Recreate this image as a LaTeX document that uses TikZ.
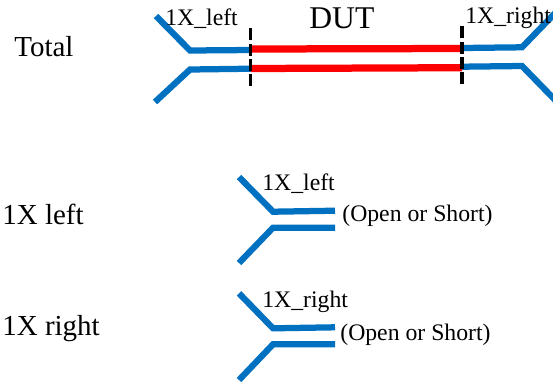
\documentclass[tikz,border=0pt]{standalone}
\usepackage{fontspec}
\setmainfont{Liberation Serif}
\definecolor{forkblue}{RGB}{0,112,192}
\tikzset{
	fork/.style={draw=forkblue, line width=0.125cm, line join=miter},
	dut/.style={draw=red, line width=0.145cm},
	plane/.style={draw=black, line width=0.07cm, dash pattern=on 0.24cm off 0.07cm},
	biglabel/.style={anchor=base west, inner sep=0pt, font=\fontsize{16.5}{18}\selectfont},
	hugelabel/.style={anchor=base west, inner sep=0pt, font=\fontsize{18}{20}\selectfont},
	smalllabel/.style={anchor=base west, inner sep=0pt, font=\fontsize{13.5}{15}\selectfont}
}
\begin{document}
\begin{tikzpicture}[x=0.02cm, y=-0.02cm]
	\useasboundingbox (0,0) rectangle (553,383);
	\begin{scope}
	\clip (0,0) rectangle (553,383);
	\draw[fork] (156,16) -- (190,50.5) -- (251,50);%total left upper
	\draw[fork] (155,102) -- (190,69.5) -- (251,68.7);%total left lower
	\draw[fork] (462,48) -- (522,47.3) -- (560,8);%total right upper
	\draw[fork] (462,66.7) -- (522,66) -- (560,105);%total right lower
	\end{scope}
	\draw[dut] (251,49) -- (462,48.5);
	\draw[dut] (251,68.5) -- (462,67.7);
	\draw[plane] (250.5,28) -- (250.5,87);
	\draw[plane] (462,26) -- (462,85);

	\draw[fork] (239,177) -- (273,211.7) -- (335,210.7);%1X left upper
	\draw[fork] (239,263) -- (273,227.7) -- (335,227.7);%1X left lower
	\draw[fork] (239,293.3) -- (273,328.3) -- (335,327.3);%1X right upper
	\draw[fork] (239,380) -- (273,344.3) -- (335,344.3);%1X right lower

	\node[biglabel] (total) at (14,56) {Total};
	\node[hugelabel] (dutlabel) at (309,28) {DUT};
	\node[smalllabel] (totalleft) at (165,25) {1X\_left};
	\node[smalllabel] (totalright) at (465,23) {1X\_right};
	\node[biglabel] (leftrow) at (2,224) {1X left};
	\node[smalllabel] (leftfork) at (262,190) {1X\_left};
	\node[smalllabel] (leftopen) at (342,221) {(Open or Short)};
	\node[biglabel] (rightrow) at (2,335) {1X right};
	\node[smalllabel] (rightfork) at (262,307) {1X\_right};
	\node[smalllabel] (rightopen) at (340,340) {(Open or Short)};
\end{tikzpicture}
\end{document}
